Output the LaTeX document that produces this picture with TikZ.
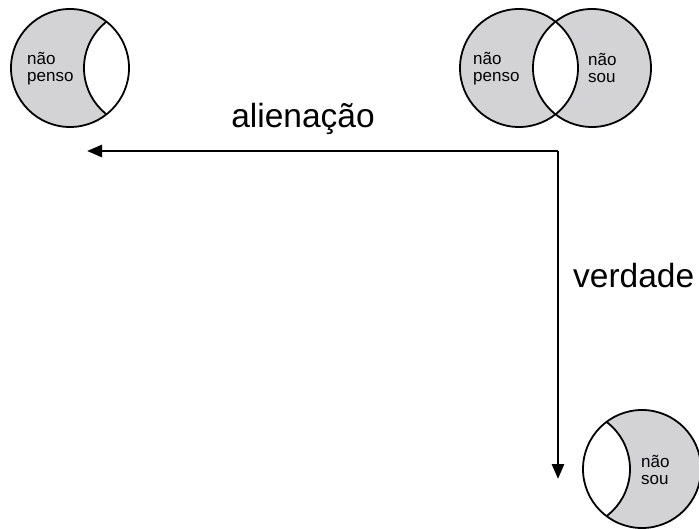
\documentclass[tikz,border=0pt]{standalone}
\usepackage{fontspec}
\setmainfont{Liberation Sans}
\usetikzlibrary{arrows.meta}
\definecolor{mLightGrey}{RGB}{211,211,213}
\colorlet{ColourDisc}{mLightGrey}
\colorlet{ColourLine}{black}
\tikzset{
  disc/.style={
    fill=ColourDisc,
    circle,
    inner sep=0pt,
    minimum size=118
  },
  ring/.style={
    draw=ColourLine,
    line width=1.8,
    circle,
    inner sep=0pt,
    minimum size=118
  },
  lens/.style={
    fill=white,
    draw=ColourLine,
    line width=1.8,
  },
  tag/.style={
    font=\fontsize{17}{17}\selectfont,
    align=left,
    inner sep=0pt,
    anchor=west
  },
  caption/.style={
    font=\fontsize{33.5}{40}\selectfont,
    inner sep=0pt
  },
  flow/.style={
    ColourLine,
    line width=2.8,
    -{Triangle[length=15,width=12]}
  },
}

\begin{document}
\begin{tikzpicture}[x=1pt, y=-1pt]
  \useasboundingbox (0,0) rectangle (699,529);
  % nao penso (left)
  \node[disc] (penso) at (70,68) {};
  \begin{scope}
    \clip (penso.center) circle[radius=59];
    \path[lens] (143,68) circle[radius=59];
  \end{scope}
  \node[ring] (pensoo) at (penso) {};
  \node[tag] (pensotxt) at (27,69) {não\\penso};
  % both (top right)
  \node[disc] (vennl) at (519,68) {};
  \node[disc] (vennr) at (592,68) {};
  \begin{scope}
    \clip (vennl.center) circle[radius=59];
    \fill[white] (vennr.center) circle[radius=59];
  \end{scope}
  \node[ring] (vennlo) at (vennl) {};
  \node[ring] (vennro) at (vennr) {};
  \node[tag] (vennltxt) at (473,69) {não\\penso};
  \node[tag] (vennrtxt) at (588,68) {não\\sou};
  % nao sou (bottom right)
  \node[disc] (sou) at (642,469) {};
  \begin{scope}
    \clip (sou.center) circle[radius=59];
    \path[lens] (571,469) circle[radius=59];
  \end{scope}
  \node[ring] (souo) at (sou) {};
  \node[tag] (soutxt) at (641,470) {não\\sou};
  % arrows
  \coordinate (corner) at (558,151);
  \coordinate (alienend) at (87,151);
  \coordinate (verdend) at (558,479);
  \draw[flow] (corner) -- (alienend);
  \draw[flow] (corner) -- (verdend);
  \node[caption, anchor=base] (alien) at (303,128) {alienação};
  \node[caption, anchor=base west] (verd) at (573,288) {verdade};
\end{tikzpicture}
\end{document}
